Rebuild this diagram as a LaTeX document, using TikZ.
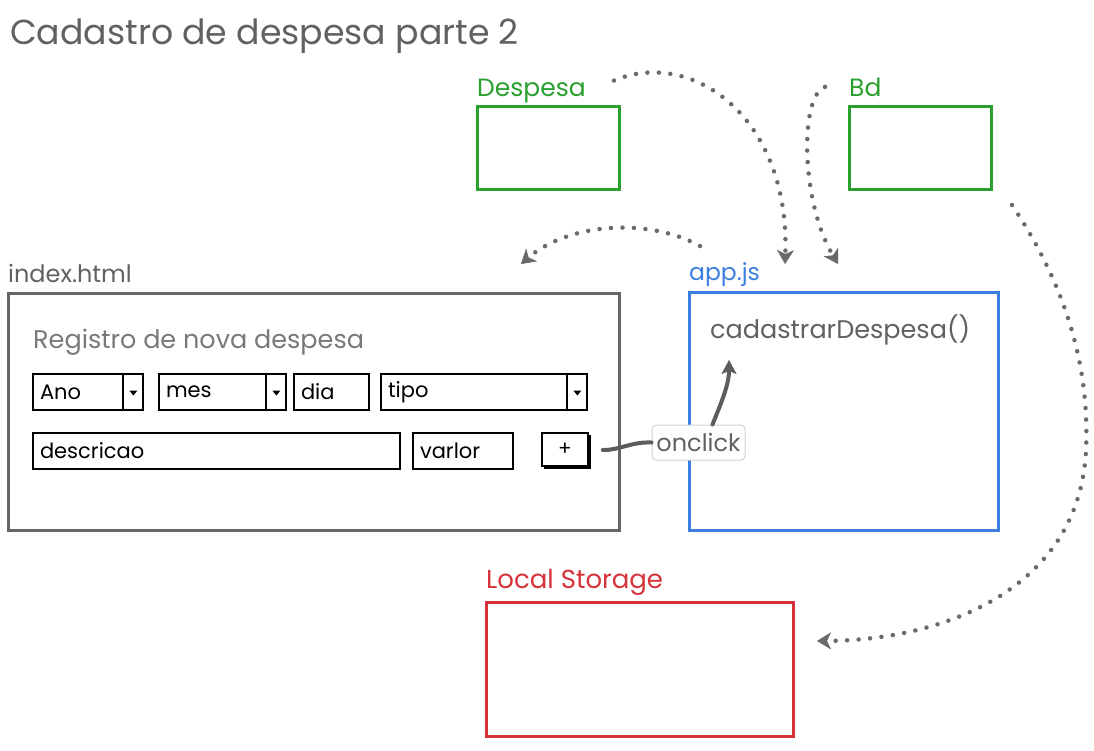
\documentclass[tikz,border=0pt]{standalone}
\usepackage{fontspec}
\setmainfont{Poppins}
\usetikzlibrary{arrows.meta,calc}
\definecolor{txtgray}{HTML}{616161}
\definecolor{boxgray}{HTML}{666666}
\definecolor{dotgray}{HTML}{6A6A6A}
\definecolor{lgreen}{HTML}{2AA02F}
\definecolor{lblue}{HTML}{3C7FE0}
\definecolor{lred}{HTML}{D6333B}
\tikzset{
  fs/.style={font=\fontsize{#1}{#1}\selectfont},
  lbl/.style={anchor=base west, inner sep=0pt, fs=#1},
  bigbox/.style={draw=#1, line width=3pt, inner sep=0pt},
  field/.style={draw=black, line width=1.7pt, minimum height=36pt, inner xsep=7pt,
    inner ysep=0pt, align=left, fs=21, anchor=center},
  dots/.style={draw=dotgray, line width=4.5pt, line cap=round, dash pattern=on 0pt off 11.5pt,
    -{Stealth[length=14pt,width=17pt,inset=4pt,line width=0.5pt,fill=dotgray,color=dotgray]}},
  conn/.style={draw=boxgray!90!black, line width=4pt, line cap=round}
}
\begin{document}
\begin{tikzpicture}[x=1pt,y=-1pt]
\useasboundingbox[fill=white] (0,0) rectangle (1094,750);

% title
\node[lbl=34.7, text=txtgray] (title) at (10,44) {Cadastro de despesa parte 2};

% Despesa / Bd
\node[lbl=25, text=lgreen] (despLbl) at (477,96) {Despesa};
\node[bigbox=lgreen, minimum width=142pt, minimum height=83pt] (despBox) at (548,147.5) {};
\node[lbl=25, text=lgreen] (bdLbl) at (849,96) {Bd};
\node[bigbox=lgreen, minimum width=142pt, minimum height=83pt] (bdBox) at (920,147.5) {};

% index.html
\node[lbl=24, text=txtgray] (idxLbl) at (8,282) {index.html};
\node[bigbox=boxgray, minimum width=611pt, minimum height=237pt] (idxBox) at (313.5,411.5) {};
\node[lbl=25.5, text=txtgray!85] (reg) at (33,348) {Registro de nova despesa};

% row 1
\node[field, minimum width=110pt, text width=96pt] (ano) at (88,392) {Ano};
\node[field, minimum width=127pt, text width=113pt] (mes) at (222.5,392) {mes};
\node[field, minimum width=75pt, text width=61pt] (dia) at (331.5,392) {dia};
\node[field, minimum width=206pt, text width=192pt] (tipo) at (484,392) {tipo};
\foreach \b in {ano,mes,tipo}{
  \draw[line width=1.5pt] ([xshift=-21pt]\b.north east) -- ([xshift=-21pt]\b.south east);
  \fill ($(\b.east)+(-10.5,0)$) ++(-4,-1.5) -- ++(8,0) -- ++(-4,5) -- cycle;
}

% row 2
\node[field, minimum width=367pt, text width=353pt] (desc) at (216.5,451) {descricao};
\node[field, minimum width=100pt, text width=86pt] (valor) at (463,451) {varlor};
\fill[black] (544,435) rectangle (591,469);
\node[draw=black, fill=white, line width=1.6pt, minimum width=46pt, minimum height=33pt,
  inner sep=0pt, fs=20] (plus) at (565,449.5) {+};

% app.js
\node[lbl=23.5, text=lblue] (appLbl) at (689,280) {app.js};
\node[bigbox=lblue, minimum width=309pt, minimum height=238pt] (appBox) at (843.5,411) {};
\node[lbl=25.5, text=txtgray] (func) at (710,338) {cadastrarDespesa()};

% onclick
\node[draw=gray!35, fill=white, line width=1pt, rounded corners=4pt, minimum width=93pt,
  minimum height=35pt, inner sep=0pt, text=txtgray, fs=24] (onclick) at (698.5,442.5) {onclick};
\coordinate (funcIn) at (729,360);
\draw[conn, shorten <=14pt] (plus.east) .. controls +(30,1) and +(-20,-1) .. (onclick.west);
\draw[conn, -{Stealth[length=14pt,width=15pt,inset=3pt,line width=0.5pt]}]
  ([xshift=14pt]onclick.north) .. controls +(8,-20) and +(0,25) .. (funcIn);

% Local Storage
\node[lbl=26, text=lred] (lsLbl) at (486,588) {Local Storage};
\node[bigbox=lred, minimum width=307pt, minimum height=134pt] (lsBox) at (639.5,669) {};

% dotted connectors
\coordinate (e1) at (785,264);
\coordinate (e2) at (838,264);
\coordinate (e3) at (521,264);
\coordinate (e4) at (817,641);
\coordinate (s3) at (700,246);
\coordinate (s4) at (1012,205);
\draw[dots] ([xshift=28pt,yshift=10pt]despLbl.east) .. controls (690,48) and (790,115) .. (e1);
\draw[dots] ([xshift=-24pt,yshift=0pt]bdLbl.west) .. controls (800,95) and (800,200) .. (e2);
\draw[dots] (s3) .. controls (650,218) and (570,222) .. (e3);
\draw[dots] (s4) .. controls (1062,280) and (1090,360) .. (1086,450)
  .. controls (1080,585) and (950,640) .. (e4);
\end{tikzpicture}
\end{document}
